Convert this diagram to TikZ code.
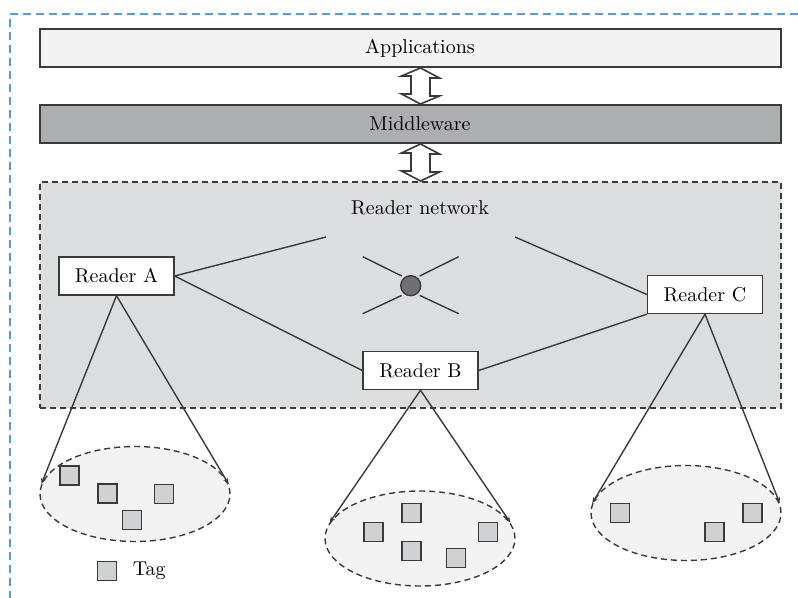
\documentclass[tikz,border=0pt]{standalone}
\usepackage{tikz}
\usetikzlibrary{positioning,calc,shapes.geometric,arrows.meta}

\definecolor{appfill}{HTML}{F2F3F2}
\definecolor{mwfill}{HTML}{ADAEB0}
\definecolor{netfill}{HTML}{DCDDDF}
\definecolor{tagfill}{HTML}{D0D1D3}
\definecolor{hubfill}{HTML}{707072}
\definecolor{ink}{HTML}{3A3A3A}
\definecolor{framecol}{HTML}{5B9BD5}

\begin{document}
\begin{tikzpicture}[x=0.5pt, y=-0.5pt, ink, line width=.7pt,
		b/.style={rectangle, draw, line width=1pt, minimum width=370.5pt, minimum height=19pt, inner sep=0pt},
		r/.style={rectangle, draw, fill=white, minimum width=57.5pt, minimum height=19pt, inner sep=0pt, text=black},
		cell/.style={ellipse, draw, dashed, dash pattern=on 3pt off 2pt, fill=appfill, minimum width=95pt, minimum height=47.5pt, inner sep=0pt},
		t/.style={rectangle, draw, line width=.9pt, fill=tagfill, minimum size=9.5pt, inner sep=0pt},
		k/.style={-{Stealth[length=3pt, width=2.5pt]}, shorten >=0pt},
		d/.style={draw, fill=white, line width=.8pt, line join=miter}]
		\useasboundingbox (0,0) rectangle (798,598);
		\draw[framecol, line width=1pt, dash pattern=on 4pt off 2.5pt] (798,14) -- (10,14) -- (10,598);

		% layers
		\node[b, fill=appfill] (app) at (410.5,48) {};
		\node[text=black] (app_label) at (420,48) {Applications};
		\node[b, fill=mwfill] (mw) at (410.5,124) {};
		\node[text=black] (mw_label) at (420,124) {Middleware};
		\node[b, fill=netfill, dashed, dash pattern=on 3pt off 2pt, minimum height=113pt] (net) at (410.5,295) {};
		\node[text=black] (net_label) at (420,208) {Reader network};

		% readers
		\node[r] (A) at (116.5,276) {Reader A};
		\node[r] (B) at (420.5,370.5) {Reader B};
		\node[r] (C) at (705,294.5) {Reader C};
		\node[circle, draw, fill=hubfill, minimum size=10pt, inner sep=0pt] (hub) at (410.7,285.7) {};
		\coordinate (A_end) at (326,237);
		\coordinate (C_end) at (515,237);

		\draw[d] (app.south -| B) -- ++(19,10) -- ++(-9.5,0) -- ++(0,18) -- ++(9.5,0) -- (mw.north -| B)
			-- ++(-19,-10) -- ++(9.5,0) -- ++(0,-18) -- ++(-9.5,0) -- cycle;
		\draw[d] (mw.south -| B) -- ++(19,10) -- ++(-9.5,0) -- ++(0,18) -- ++(9.5,0) -- (net.north -| B)
			-- ++(-19,-10) -- ++(9.5,0) -- ++(0,-18) -- ++(-9.5,0) -- cycle;

		\draw (A.east) -- (A_end);
		\draw (A.east) -- (B.west);
		\draw (B.east) -- (C.south west);
		\draw (C_end) -- (C.west);
		\draw ($(hub)+(-9,-9.7)$) -- ++(-39,-19.3);
		\draw ($(hub)+(9,-9.7)$) -- ++(39,-19.3);
		\draw ($(hub)+(-9,9.7)$) -- ++(-39,18.3);
		\draw ($(hub)+(9,9.7)$) -- ++(39,18.3);

		% tag zones
		\node[cell] (zA) at (135,494) {};
		\node[cell] (zB) at (420,538.5) {};
		\node[cell] (zC) at (686,513) {};

		\draw[k] (A.south) -- (zA.174);
		\draw[k] (A.south) -- (zA.6);
		\draw[k] (B.south) -- (zB.170);
		\draw[k] (B.south) -- (zB.10);
		\draw[k] (C.south) -- (zC.174);
		\draw[k] (C.south) -- (zC.6);

		\node[t] (A1) at (69.5,475.5) {};
		\node[t] (A2) at (107.5,493.5) {};
		\node[t] (A3) at (164,494) {};
		\node[t] (A4) at (132,520) {};

		\node[t] (B1) at (373.5,532) {};
		\node[t] (B2) at (411.5,513) {};
		\node[t] (B3) at (411.5,551) {};
		\node[t] (B4) at (456,558) {};
		\node[t] (B5) at (488,532) {};

		\node[t] (C1) at (620,513) {};
		\node[t] (C2) at (714.5,532) {};
		\node[t] (C3) at (752.5,513) {};

		% legend
		\node[t] (key) at (107,571) {};
		\node[right=4pt of key, text=black] (key_label) {Tag};
	\end{tikzpicture}
\end{document}
